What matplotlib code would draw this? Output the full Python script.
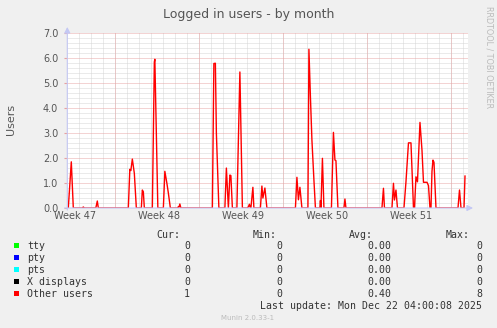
import numpy as np
import matplotlib
matplotlib.use("Agg")
import matplotlib.pyplot as plt
from matplotlib.patches import Rectangle

W, H = 497, 328

# hours since the left edge of the graph (1 px = 2 h)
hours = [0, 2, 8, 12, 30, 32, 34, 57, 60, 62,
         122, 125, 127, 130, 134, 138, 148, 150, 152, 154,
         170, 174, 175, 181, 192, 195, 199, 202, 206,
         220, 222, 223, 225, 227, 290, 293, 296, 298, 303,
         315, 318, 322, 325, 327, 330, 339, 345, 350,
         360, 362, 364, 366, 367, 371, 373, 386, 389, 391, 395, 399,
         456, 459, 462, 465, 469, 481, 483, 486, 489, 493, 496,
         505, 506, 507, 510, 513, 528, 532, 535, 537, 541, 553, 555, 557,
         629, 632, 634, 649, 652, 654, 657, 660,
         673, 677, 682, 687, 692, 694, 697, 700, 705, 709, 712, 719, 722, 725,
         727, 729, 731, 733, 737, 781, 784, 787, 793, 795]
other_users = [0, 0, 1.85, 0, 0, 0.04, 0, 0, 0.28, 0,
               0, 1.55, 1.5, 1.96, 1.39, 0, 0, 0.72, 0.65, 0,
               0, 5.85, 5.96, 0, 0, 1.47, 1.0, 0.6, 0,
               0, 0.05, 0.02, 0.16, 0, 0, 5.79, 5.8, 3.0, 0,
               0, 1.6, 0, 1.32, 1.3, 0, 0, 5.45, 0,
               0, 0.05, 0.15, 0, 0, 0.83, 0, 0, 0.88, 0.4, 0.8, 0,
               0, 1.23, 0.33, 0.83, 0, 0, 6.36, 4.45, 2.72, 1.12, 0,
               0, 0.3, 0, 1.99, 0, 0, 3.03, 1.92, 1.9, 0, 0, 0.36, 0,
               0, 0.79, 0, 0, 0.99, 0.32, 0.72, 0,
               0, 1.05, 2.61, 2.61, 0, 0, 1.25, 1.05, 3.43, 2.32, 1.03, 1.03, 0.9, 0,
               0, 1.47, 1.92, 1.83, 0, 0, 0.72, 0, 0, 1.28]

week_pos = [15.5, 183.5, 351.5, 519.5, 687.5]
week_labels = ["Week 47", "Week 48", "Week 49", "Week 50", "Week 51"]
week_bounds = [96, 264, 432, 600, 768]

names = ["tty", "pty", "pts", "X displays", "Other users"]
colors = ["#00FF00", "#0000FF", "#00FFFF", "#000000", "#FF0000"]
cur = ["0", "0", "0", "0", "1"]
mins = ["0", "0", "0", "0", "0"]
avgs = ["0.00", "0.00", "0.00", "0.00", "0.40"]
maxs = ["0", "0", "0", "0", "8"]

fig = plt.figure(figsize=(W / 100, H / 100), dpi=100, facecolor="#F0F0F0")


def ftext(x, y, s, **kw):
    fig.text(x / W, 1 - y / H, s, **kw)


ax = fig.add_axes([67.3 / W, 1 - 208 / H, (468 - 67.3) / W, (208 - 33.3) / H])
ax.set_facecolor("white")
ax.set_xlim(0, 801)
ax.set_ylim(0, 7)
for s in ax.spines.values():
    s.set_visible(False)

ax.set_yticks(range(8), [f"{v:.1f}" for v in range(8)])
ax.set_yticks(np.arange(0, 7.01, 0.2), minor=True)
ax.set_xticks(week_pos, week_labels)
ax.set_xticks(np.arange(0, 801, 24), minor=True)
ax.tick_params(which="both", length=0)
ax.tick_params(axis="y", which="major", length=2, color="#E8A0A0", pad=4.5,
               labelsize=7, labelcolor="#555555")
ax.tick_params(axis="x", pad=2, labelsize=7, labelcolor="#555555")

ax.set_axisbelow(True)
dot = (0, (1, 1))
ax.grid(which="minor", color="#D6D6D6", lw=0.72, ls=dot, zorder=0.5)
ax.yaxis.grid(True, which="major", color="#E8A8A8", lw=0.72, ls=dot, zorder=0.6)
ax.xaxis.grid(False, which="major")
ax.vlines(week_bounds, 0, 7, colors="#E8A8A8", lw=0.72, linestyles=dot, zorder=0.6)

ax.plot(hours, other_users, color="#FF0000", lw=1.0, zorder=3)

axis_c = "#C4C8F4"
ax.annotate("", xy=(0, 1.036), xytext=(0, -0.012), xycoords="axes fraction",
            arrowprops=dict(arrowstyle="-|>,head_length=0.35,head_width=0.18",
                            color=axis_c, lw=0.8, shrinkA=0, shrinkB=0),
            annotation_clip=False)
ax.annotate("", xy=(1.0125, 0), xytext=(-0.007, 0), xycoords="axes fraction",
            arrowprops=dict(arrowstyle="-|>,head_length=0.35,head_width=0.18",
                            color=axis_c, lw=0.8, shrinkA=0, shrinkB=0),
            annotation_clip=False)

ftext(248.5, 18.3, "Logged in users - by month", fontsize=9, color="#555555",
      ha="center", va="baseline")
ftext(11, 119, "Users", fontsize=8, color="#555555", rotation=90,
      ha="center", va="center")
ftext(488.5, 57, "RRDTOOL / TOBI OETIKER", fontsize=5.8, color="#BBBBBB",
      rotation=270, ha="center", va="center")

mono = dict(family="DejaVu Sans Mono", fontsize=7.1, color="#333333", va="baseline")
for hdr, xr in zip(["Cur:", "Min:", "Avg:", "Max:"], [180, 277, 373, 470]):
    ftext(xr, 237.5, hdr, ha="right", **mono)
for i, name in enumerate(names):
    yb = 249.3 + 12 * i
    fig.patches.append(Rectangle(((14) / W, 1 - (245 + 12 * i + 2.5) / H), 5 / W, 5 / H,
                                 transform=fig.transFigure, facecolor=colors[i],
                                 edgecolor="none"))
    ftext(27, yb, name, ha="left", **mono)
    ftext(190, yb, cur[i], ha="right", **mono)
    ftext(282, yb, mins[i], ha="right", **mono)
    ftext(391, yb, avgs[i], ha="right", **mono)
    ftext(482, yb, maxs[i], ha="right", **mono)
ftext(482, 308.7, "Last update: Mon Dec 22 04:00:08 2025", ha="right", **mono)
ftext(248, 320.5, "Munin 2.0.33-1", fontsize=5, color="#BBBBBB", ha="center",
      va="baseline")

fig.savefig("out.png", dpi=100, facecolor=fig.get_facecolor())
